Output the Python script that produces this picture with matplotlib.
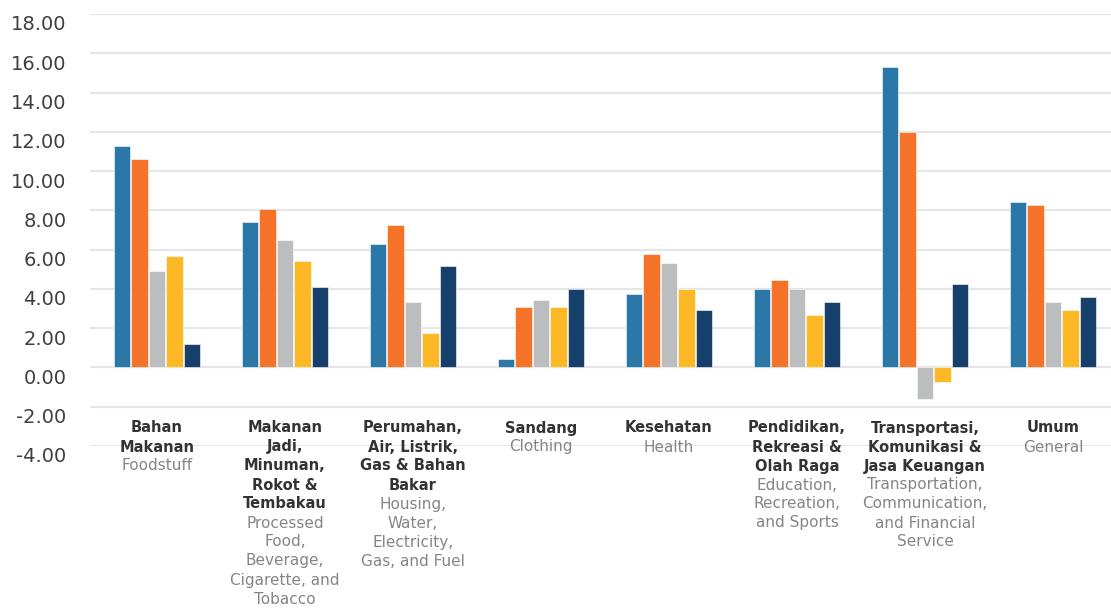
import numpy as np
import matplotlib
matplotlib.use("Agg")
import matplotlib.pyplot as plt
import matplotlib.transforms as mtransforms

plt.rcParams['font.family'] = ['DejaVu Sans']

categories_id = ["Bahan\nMakanan",
                 "Makanan\nJadi,\nMinuman,\nRokot &\nTembakau",
                 "Perumahan,\nAir, Listrik,\nGas & Bahan\nBakar",
                 "Sandang",
                 "Kesehatan",
                 "Pendidikan,\nRekreasi &\nOlah Raga",
                 "Transportasi,\nKomunikasi &\nJasa Keuangan",
                 "Umum"]
categories_en = ["Foodstuff",
                 "Processed\nFood,\nBeverage,\nCigarette, and\nTobacco",
                 "Housing,\nWater,\nElectricity,\nGas, and Fuel",
                 "Clothing",
                 "Health",
                 "Education,\nRecreation,\nand Sports",
                 "Transportation,\nCommunication,\nand Financial\nService",
                 "General"]

s1 = [11.30, 7.42, 6.28, 0.41, 3.73, 4.00, 15.30, 8.41]
s2 = [10.60, 8.05, 7.26, 3.07, 5.77, 4.47, 12.00, 8.27]
s3 = [4.89, 6.47, 3.32, 3.45, 5.31, 4.00, -1.62, 3.32]
s4 = [5.68, 5.41, 1.77, 3.07, 4.00, 2.66, -0.75, 2.92]
s5 = [1.20, 4.10, 5.19, 4.00, 2.94, 3.34, 4.25, 3.60]

series = [s1, s2, s3, s4, s5]
colors = ["#2B78A8", "#F47328", "#BCBDBF", "#FDB827", "#163F6A"]

yticks = np.arange(-4, 19, 2)

fig = plt.figure(figsize=(11.11, 6.08), dpi=100)
ax = fig.add_axes([90 / 1111, (608 - 446) / 608, (1111 - 90) / 1111, 432 / 608])

x = np.arange(len(categories_id))
step = 0.137
for k, vals in enumerate(series):
    ax.bar(x + (k - 2) * step, vals, width=0.127, color=colors[k],
           edgecolor='white', linewidth=0.4, zorder=3)

ax.set_xlim(-0.523, 7.453)
ax.set_ylim(-4, 18)
ax.set_yticks(yticks)
ax.set_yticklabels([f"{v:.2f}" for v in yticks])
ax.yaxis.grid(True, color="#E6E6E6", linewidth=1.6, zorder=0)
ax.set_xticks([])
for sp in ax.spines.values():
    sp.set_visible(False)
ax.tick_params(axis='y', length=0, pad=17, labelsize=14, labelcolor="#3F3F3F")
offset = mtransforms.ScaledTranslation(0, -9 / 100, fig.dpi_scale_trans)
for lbl in ax.get_yticklabels():
    lbl.set_transform(lbl.get_transform() + offset)

# category labels: bold Indonesian lines, then grey English lines, 19 px apart
trans = ax.get_xaxis_transform()
line_h = 19 / 432
y0 = 18 / 432
for i in range(len(categories_id)):
    lines = [(t, 'bold', "#333333", 10.5) for t in categories_id[i].split("\n")]
    lines += [(t, 'normal', "#858585", 11) for t in categories_en[i].split("\n")]
    for j, (t, w, c, fs) in enumerate(lines):
        ax.text(i, y0 - j * line_h, t, transform=trans, ha='center',
                va='center', fontsize=fs, fontweight=w, color=c, clip_on=False)

fig.savefig("out.png", dpi=100)
